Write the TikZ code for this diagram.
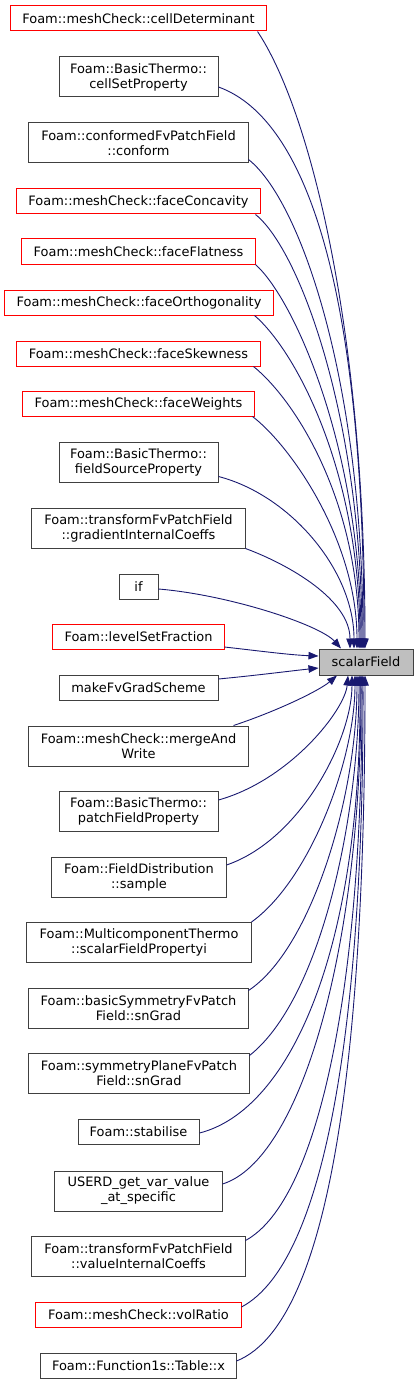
\documentclass[tikz,border=0pt]{standalone}
\usepackage{fontspec}
\setmainfont{DejaVu Sans}
\usetikzlibrary{arrows.meta}
\definecolor{edgeblue}{HTML}{191970}
\definecolor{nodered}{HTML}{FF0000}
\definecolor{nodegray}{HTML}{404040}
\definecolor{rootfill}{HTML}{BFBFBF}
\begin{document}
\begin{tikzpicture}[x=1bp,y=-1bp,
  box/.style={draw=nodegray, line width=1bp, rectangle, inner sep=0pt, align=center,
    font=\fontsize{12.95bp}{15bp}\selectfont, text=black},
  redbox/.style={box, draw=nodered},
  rootbox/.style={box, fill=rootfill},
  one/.style={minimum height=25bp},
  two/.style={minimum height=40bp},
  edge/.style={draw=edgeblue, line width=0.9bp, -{Triangle[length=10bp,width=7.5bp]}}
]
\useasboundingbox (0,0) rectangle (417,1384);

\node[redbox, one, minimum width=255bp] (n1) at (138.5,18.5) {Foam::meshCheck::cellDeterminant};
\node[box, two, minimum width=159bp] (n2) at (138.5,77) {Foam::BasicThermo::\\cellSetProperty};
\node[box, two, minimum width=219bp] (n3) at (138.5,143) {Foam::conformedFvPatchField\\::conform};
\node[redbox, one, minimum width=243bp] (n4) at (138.5,201.5) {Foam::meshCheck::faceConcavity};
\node[redbox, one, minimum width=233bp] (n5) at (138.5,251.5) {Foam::meshCheck::faceFlatness};
\node[redbox, one, minimum width=268bp] (n6) at (139,302.5) {Foam::meshCheck::faceOrthogonality};
\node[redbox, one, minimum width=243bp] (n7) at (138.5,353.5) {Foam::meshCheck::faceSkewness};
\node[redbox, one, minimum width=231bp] (n8) at (138.5,403.5) {Foam::meshCheck::faceWeights};
\node[box, two, minimum width=159bp] (n9) at (138.5,462.5) {Foam::BasicThermo::\\fieldSourceProperty};
\node[box, two, minimum width=213bp] (n10) at (138.5,528) {Foam::transformFvPatchField\\::gradientInternalCoeffs};
\node[box, one, minimum width=39bp] (n11) at (138.5,586.5) {if};
\node[redbox, one, minimum width=171bp] (n12) at (138.5,637) {Foam::levelSetFraction};
\node[box, one, minimum width=159bp] (n13) at (138.5,688) {makeFvGradScheme};
\node[box, two, minimum width=219bp] (n14) at (138.5,746) {Foam::meshCheck::mergeAnd\\Write};
\node[box, two, minimum width=159bp] (n15) at (138.5,811.5) {Foam::BasicThermo::\\patchFieldProperty};
\node[box, two, minimum width=174bp] (n16) at (139,877) {Foam::FieldDistribution\\::sample};
\node[box, two, minimum width=224bp] (n17) at (139,942.5) {Foam::MulticomponentThermo\\::scalarFieldPropertyi};
\node[box, two, minimum width=219bp] (n18) at (138.5,1008) {Foam::basicSymmetryFvPatch\\Field::snGrad};
\node[box, two, minimum width=220bp] (n19) at (139,1073) {Foam::symmetryPlaneFvPatch\\Field::snGrad};
\node[box, one, minimum width=121bp] (n20) at (138.5,1131.5) {Foam::stabilise};
\node[box, two, minimum width=167bp] (n21) at (138.5,1191) {USERD\_get\_var\_value\\\_at\_specific};
\node[box, two, minimum width=213bp] (n22) at (138.5,1256) {Foam::transformFvPatchField\\::valueInternalCoeffs};
\node[redbox, one, minimum width=205bp] (n23) at (138.5,1314.5) {Foam::meshCheck::volRatio};
\node[box, one, minimum width=195bp] (n24) at (138.5,1366) {Foam::Function1s::Table::x};

\node[rootbox, minimum width=94bp, minimum height=26bp] (root) at (366,662) {scalarField};

% edges into the top of the root
\draw[edge] ([xshift=-9bp]n1.south east) .. controls (310,110) and (365,330) .. ([xshift=-1bp]root.north);
\draw[edge] ([yshift=-10bp]n2.east) .. controls (310,120) and (364,300) .. ([xshift=-2bp]root.north);
\draw[edge] ([yshift=4bp]n3.south east) .. controls (300,200) and (363,380) .. ([xshift=-3bp]root.north);
\draw[edge] ([xshift=-5bp]n4.south east) .. controls (300,250) and (362,420) .. ([xshift=-4bp]root.north);
\draw[edge] (n5.south east) .. controls (295,300) and (361,450) .. ([xshift=-5bp]root.north);
\draw[edge] ([xshift=-19bp]n6.south east) .. controls (295,350) and (360,470) .. ([xshift=-6bp]root.north);
\draw[edge] ([xshift=-7bp]n7.south east) .. controls (295,400) and (359,500) .. ([xshift=-7bp]root.north);
\draw[edge] ([xshift=-2bp]n8.south east) .. controls (290,445) and (357,540) .. ([xshift=-9bp]root.north);
\draw[edge] ([yshift=-14bp]n9.east) .. controls (290,495) and (354,570) .. ([xshift=-12bp]root.north);
\draw[edge] (n10.south east) .. controls (290,565) and (350,600) .. ([xshift=-16bp]root.north);
\draw[edge] ([yshift=-2.5bp]n11.east) .. controls (230,595) and (320,625) .. ([xshift=-25bp]root.north);
% edges into the left side
\draw[edge] ([yshift=-10bp]n12.east) .. controls (260,651) and (290,655) .. ([yshift=6bp]root.west);
\draw[edge] ([yshift=9bp]n13.east) .. controls (260,675) and (290,671) .. ([yshift=-6bp]root.west);
% edges into the bottom of the root
\draw[edge] ([xshift=-15bp]n14.north east) .. controls (280,710) and (320,690) .. ([xshift=-29bp]root.south);
\draw[edge] ([yshift=11.5bp]n15.east) .. controls (290,780) and (345,710) .. ([xshift=-18bp]root.south);
\draw[edge] ([yshift=12bp]n16.east) .. controls (300,840) and (352,740) .. ([xshift=-14bp]root.south);
\draw[edge] (n17.north east) .. controls (310,880) and (355,760) .. ([xshift=-11bp]root.south);
\draw[edge] ([yshift=-3bp]n18.north east) .. controls (310,950) and (357,800) .. ([xshift=-9bp]root.south);
\draw[edge] ([yshift=-3bp]n19.north east) .. controls (320,1000) and (359,820) .. ([xshift=-7bp]root.south);
\draw[edge] ([yshift=-1.5bp]n20.east) .. controls (290,1110) and (362,950) .. ([xshift=-6bp]root.south);
\draw[edge] ([yshift=7bp]n21.east) .. controls (300,1160) and (362,950) .. ([xshift=-5bp]root.south);
\draw[edge] ([yshift=-5bp]n22.north east) .. controls (320,1200) and (363,980) .. ([xshift=-4bp]root.south);
\draw[edge] ([yshift=7.5bp]n23.east) .. controls (330,1260) and (364,1000) .. ([xshift=-3bp]root.south);
\draw[edge] ([yshift=5bp]n24.east) .. controls (340,1320) and (365,1000) .. ([xshift=-1bp]root.south);
\end{tikzpicture}
\end{document}
